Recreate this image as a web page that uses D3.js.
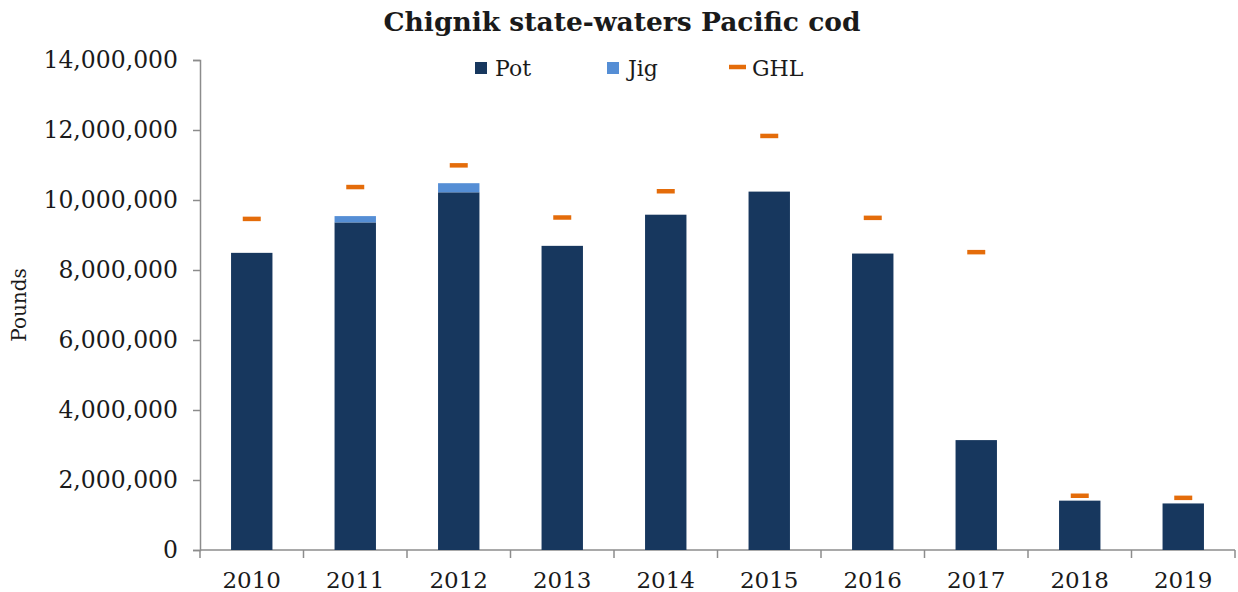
<!DOCTYPE html>
<html>
<head>
<meta charset="utf-8">
<script src="https://cdn.jsdelivr.net/npm/d3@7"></script>
<style>
  html, body { margin: 0; padding: 0; background: #fff; }
  svg { display: block; }
  text { font-family: "DejaVu Serif", serif; fill: #1a1a1a; }
</style>
</head>
<body>
<svg id="chart" width="1238" height="592"></svg>
<script>
const years = ["2010","2011","2012","2013","2014","2015","2016","2017","2018","2019"];
const pot = [8490000, 9360000, 10220000, 8690000, 9580000, 10240000, 8470000, 3140000, 1410000, 1330000];
const jig = [0, 180000, 260000, 0, 0, 0, 0, 0, 0, 0];
const ghl = [9460000, 10370000, 10990000, 9500000, 10250000, 11830000, 9490000, 8510000, 1550000, 1490000];
const yTicks = [0, 2000000, 4000000, 6000000, 8000000, 10000000, 12000000, 14000000];

const colors = { pot: "#17375E", jig: "#558ED5", ghl: "#E46C0A" };

const svg = d3.select("#chart");
const mLeft = 200, mRight = 1235, mTop = 60, mBottom = 550;

const x = d3.scaleBand().domain(years).range([mLeft, mRight]).paddingInner(0.6).paddingOuter(0.3);
const xb = d3.scaleBand().domain(years).range([mLeft, mRight]);
const y = d3.scaleLinear().domain([0, 14000000]).range([mBottom, mTop]);

// Title
svg.append("text").attr("x", 622).attr("y", 31).attr("text-anchor", "middle")
  .style("font-size", "26.5px").style("font-weight", "bold").text("Chignik state-waters Pacific cod");

// Y axis
const yAxis = d3.axisLeft(y).tickValues(yTicks).tickSize(7).tickPadding(15)
  .tickFormat(d => d3.format(",")(d));
const gy = svg.append("g").attr("transform", `translate(${mLeft},0)`).call(yAxis);
gy.select(".domain").attr("stroke", "#8c8c8c").attr("stroke-width", 1.5);
gy.selectAll(".tick line").attr("stroke", "#8c8c8c").attr("stroke-width", 1.5);
gy.selectAll(".tick text").style("font-size", "23.5px").style("font-family", "DejaVu Serif").attr("fill", "#1a1a1a");

// X axis
const gx = svg.append("g").attr("transform", `translate(0,${mBottom})`);
gx.append("line").attr("x1", mLeft).attr("x2", mRight).attr("y1", 0).attr("y2", 0)
  .attr("stroke", "#8c8c8c").attr("stroke-width", 1.5);
const bounds = years.map(d => xb(d)).concat([mRight]);
gx.selectAll("line.tk").data(bounds).join("line").attr("class", "tk")
  .attr("x1", d => d).attr("x2", d => d).attr("y1", 0).attr("y2", 8)
  .attr("stroke", "#8c8c8c").attr("stroke-width", 1.5);
gx.selectAll("text").data(years).join("text")
  .attr("x", d => xb(d) + xb.bandwidth() / 2).attr("y", 38)
  .attr("text-anchor", "middle").style("font-size", "23px").text(d => d);

// Y axis title
svg.append("text").attr("transform", "translate(26,305) rotate(-90)")
  .attr("text-anchor", "middle").style("font-size", "20px").text("Pounds");

// Bars
const data = years.map((d, i) => ({ year: d, pot: pot[i], jig: jig[i], ghl: ghl[i] }));
svg.append("g").selectAll("rect").data(data).join("rect")
  .attr("x", d => x(d.year)).attr("width", x.bandwidth())
  .attr("y", d => y(d.pot)).attr("height", d => y(0) - y(d.pot))
  .attr("fill", colors.pot);
svg.append("g").selectAll("rect").data(data.filter(d => d.jig > 0)).join("rect")
  .attr("x", d => x(d.year)).attr("width", x.bandwidth())
  .attr("y", d => y(d.pot + d.jig)).attr("height", d => y(d.pot) - y(d.pot + d.jig))
  .attr("fill", colors.jig);

// GHL markers
svg.append("g").selectAll("line").data(data).join("line")
  .attr("x1", d => xb(d.year) + xb.bandwidth() / 2 - 9)
  .attr("x2", d => xb(d.year) + xb.bandwidth() / 2 + 9)
  .attr("y1", d => y(d.ghl)).attr("y2", d => y(d.ghl))
  .attr("stroke", colors.ghl).attr("stroke-width", 4.5);

// Legend
const lg = svg.append("g");
lg.append("rect").attr("x", 475).attr("y", 62).attr("width", 12).attr("height", 12).attr("fill", colors.pot);
lg.append("text").attr("x", 495).attr("y", 76).style("font-size", "22px").text("Pot");
lg.append("rect").attr("x", 607).attr("y", 62).attr("width", 12).attr("height", 12).attr("fill", colors.jig);
lg.append("text").attr("x", 628).attr("y", 76).style("font-size", "22px").text("Jig");
lg.append("line").attr("x1", 729).attr("x2", 746).attr("y1", 67).attr("y2", 67)
  .attr("stroke", colors.ghl).attr("stroke-width", 4.5);
lg.append("text").attr("x", 752).attr("y", 76).style("font-size", "22px").text("GHL");
</script>
</body>
</html>
